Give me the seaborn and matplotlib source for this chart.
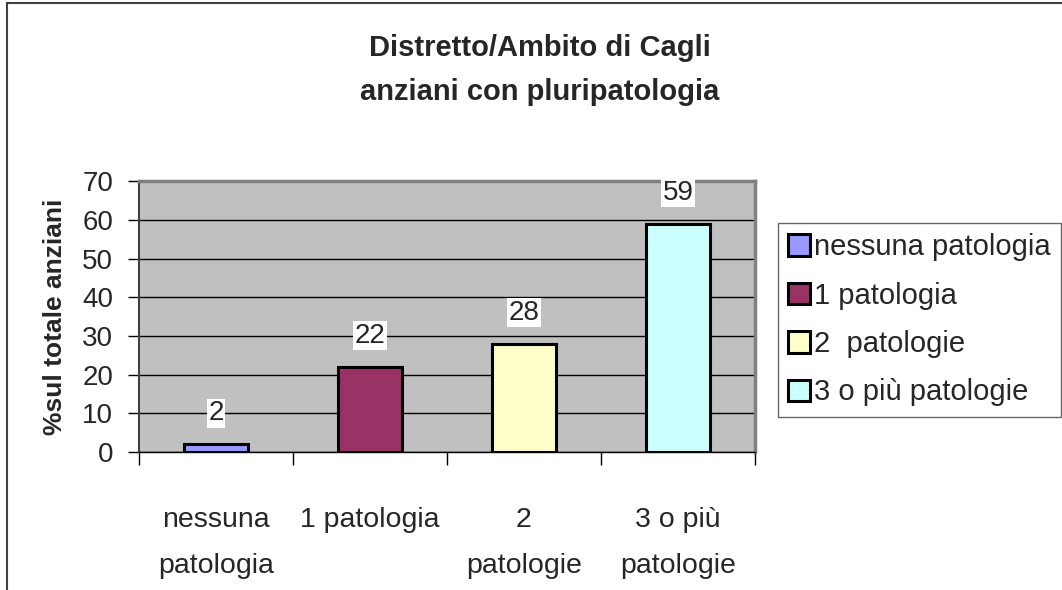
import numpy as np
import pandas as pd
import seaborn as sns
import matplotlib.pyplot as plt
from matplotlib.patches import Patch, Rectangle

# data
categories = ["nessuna\npatologia", "1 patologia", "2\npatologie", "3 o più\npatologie"]
legend_labels = ["nessuna patologia", "1 patologia", "2  patologie", "3 o più patologie"]
values = [2, 22, 28, 59]
colors = ["#9999FF", "#993366", "#FFFFCC", "#CCFFFF"]
y_ticks = np.arange(0, 71, 10)

df = pd.DataFrame({"cat": categories, "val": values})

sns.set_style("white")
plt.rcParams["font.family"] = ["Liberation Sans", "DejaVu Sans"]

fig = plt.figure(figsize=(10.62, 5.9), dpi=100)
ax = fig.add_axes([0.1309, 0.234, 0.580, 0.459])

sns.barplot(data=df, x="cat", y="val", hue="cat", palette=colors, dodge=False,
            width=0.41, edgecolor="black", linewidth=2.2, saturation=1,
            legend=False, ax=ax, zorder=3)

ax.set_facecolor("#C0C0C0")
ax.set_ylim(0, 70)
ax.set_yticks(y_ticks)
ax.set_xlim(-0.5, len(categories) - 0.5)
ax.yaxis.grid(True, color="black", linewidth=1)
ax.set_axisbelow(True)

# ticks at category boundaries on x
ax.set_xticks(np.arange(len(categories)))
ax.set_xticklabels(categories, fontsize=20.5, linespacing=2.0)
ax.set_xticks(np.arange(-0.5, len(categories)), minor=True)
ax.tick_params(axis="x", which="both", bottom=True)
ax.tick_params(axis="x", which="major", length=0, pad=40)
ax.tick_params(axis="x", which="minor", length=9, width=1, color="black", direction="out")

# y ticks drawn as short outward marks, labels padded past them
ax.tick_params(axis="y", left=False, labelsize=20, pad=15)
ax.hlines(y_ticks, -0.018, 0, transform=ax.get_yaxis_transform(), clip_on=False,
          color="black", linewidth=1)

ax.spines["bottom"].set_color("black")
ax.spines["bottom"].set_linewidth(1)
ax.spines["left"].set_color("#404040")
ax.spines["left"].set_linewidth(1.5)
for side in ["top", "right"]:
    ax.spines[side].set_color("#808080")
    ax.spines[side].set_linewidth(2.5)

ax.set_xlabel("")
ax.set_ylabel("%sul totale anziani", fontsize=19, fontweight="bold", labelpad=11)

for i, v in enumerate(values):
    ax.annotate(str(v), (i, v), xytext=(0, 13), textcoords="offset points",
                ha="center", va="bottom", fontsize=20,
                bbox=dict(facecolor="white", edgecolor="none", pad=1))

fig.suptitle("Distretto/Ambito di Cagli\nanziani con pluripatologia",
             x=0.508, y=0.943, fontsize=21, fontweight="bold", linespacing=1.73)

handles = [Patch(facecolor=c, edgecolor="black", linewidth=2.2) for c in colors]
leg = fig.legend(handles, legend_labels, loc="upper left", bbox_to_anchor=(0.7326, 0.622),
                 fontsize=21, frameon=True, fancybox=False, handlelength=0.75,
                 handleheight=0.75, handletextpad=0.15, labelspacing=0.7,
                 borderpad=0.35, borderaxespad=0)
leg.get_frame().set_edgecolor("#404040")
leg.get_frame().set_linewidth(1)

# outer chart border
fig.patches.append(Rectangle((7 / 1062, -0.1), 1.2, 1.1 - 3 / 590, transform=fig.transFigure,
                             fill=False, edgecolor="#404040", linewidth=1.5))

fig.savefig("out.png", dpi=100)
